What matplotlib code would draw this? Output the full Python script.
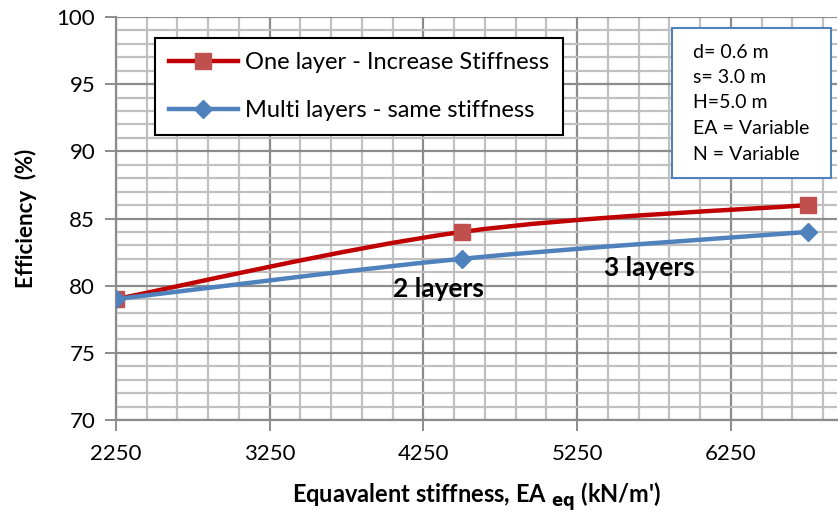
import matplotlib
matplotlib.use("Agg")
import matplotlib.pyplot as plt
from matplotlib.path import Path
from matplotlib.patches import PathPatch, Rectangle
from matplotlib.lines import Line2D
from matplotlib.ticker import MultipleLocator
import numpy as np

plt.rcParams['font.family'] = ['Lato', 'DejaVu Sans']

# Data
stiffness = [2250, 4500, 6750]
one_layer = [79, 84, 86]
multi_layer = [79, 82, 84]
series_labels = ["One layer - Increase Stiffness", "Multi layers - same stiffness"]
x_ticks = [2250, 3250, 4250, 5250, 6250]
y_ticks = [70, 75, 80, 85, 90, 95, 100]
info_lines = ["d= 0.6 m", "s= 3.0 m", "H=5.0 m", "EA = Variable", "N = Variable"]
layer_notes = [("2 layers", 4351, 79.75), ("3 layers", 5721, 81.32)]

RED_LINE = "#C00000"
RED_MARK = "#C0504D"
BLUE = "#4F81BD"


def smooth_path(xs, ys):
    """Bezier path through points, Excel-style smoothed line."""
    pts = np.column_stack([xs, ys]).astype(float)
    ext = np.vstack([pts[0], pts, pts[-1]])
    verts = [tuple(pts[0])]
    codes = [Path.MOVETO]
    for i in range(len(pts) - 1):
        p0, p1, p2, p3 = ext[i], ext[i + 1], ext[i + 2], ext[i + 3]
        c1 = p1 + (p2 - p0) / 6.0
        c2 = p2 - (p3 - p1) / 6.0
        verts += [tuple(c1), tuple(c2), tuple(p2)]
        codes += [Path.CURVE4] * 3
    return Path(verts, codes)


W, H = 838, 514
fig = plt.figure(figsize=(W / 100, H / 100), dpi=100)
ax_left, ax_right, ax_top, ax_bottom = 116, 837, 17, 420
ax = fig.add_axes([ax_left / W, 1 - ax_bottom / H, (ax_right - ax_left) / W, (ax_bottom - ax_top) / H])

px_per_1000 = 153.7
ax.set_xlim(2250, 2250 + (ax_right - ax_left) / px_per_1000 * 1000)
ax.set_ylim(70, 100)

ax.set_xticks(x_ticks)
ax.xaxis.set_minor_locator(MultipleLocator(200, offset=50))
ax.set_yticks(y_ticks)
ax.yaxis.set_minor_locator(MultipleLocator(1))

ax.grid(which="minor", color="#C0C0C0", linewidth=1.6)
ax.grid(which="major", color="#8C8C8C", linewidth=1.6)
ax.set_axisbelow(True)

for side in ["top", "right"]:
    ax.spines[side].set_visible(False)
for side in ["left", "bottom"]:
    ax.spines[side].set_color("#8C8C8C")
    ax.spines[side].set_linewidth(1.6)

ax.tick_params(which="major", length=8, width=1.4, color="#8C8C8C", labelsize=16, pad=7)
ax.tick_params(axis="x", which="major", pad=9)
ax.tick_params(which="minor", length=0)

# Smoothed lines
ax.add_patch(PathPatch(smooth_path(stiffness, one_layer), facecolor="none",
                       edgecolor=RED_LINE, linewidth=3.2, capstyle="round", zorder=3))
ax.plot(stiffness, one_layer, linestyle="none", marker="s", markersize=12,
        color=RED_MARK, zorder=4)
ax.add_patch(PathPatch(smooth_path(stiffness, multi_layer), facecolor="none",
                       edgecolor=BLUE, linewidth=3.2, capstyle="round", zorder=5))
ax.plot(stiffness, multi_layer, linestyle="none", marker="D", markersize=9,
        color=BLUE, zorder=6)

for txt, x, y in layer_notes:
    ax.text(x, y, txt, fontsize=19, fontweight="bold", ha="center", va="center", zorder=7)

ax.set_xlabel("Equavalent stiffness, EA $_{\\mathbf{eq}}$ (kN/m')", fontsize=17,
              fontweight="bold", labelpad=12)
ax.set_ylabel("Efficiency  (%)", fontsize=16, fontweight="bold", labelpad=14)

handles = [
    Line2D([], [], color=RED_LINE, linewidth=3.2, marker="s", markersize=12,
           markerfacecolor=RED_MARK, markeredgecolor=RED_MARK),
    Line2D([], [], color=BLUE, linewidth=3.2, marker="D", markersize=9,
           markerfacecolor=BLUE, markeredgecolor=BLUE),
]
leg = ax.legend(handles, series_labels, loc="upper left",
                bbox_to_anchor=((155 - ax_left) / (ax_right - ax_left), (ax_bottom - 38) / (ax_bottom - ax_top)),
                borderaxespad=0, fontsize=17, frameon=True, fancybox=False,
                edgecolor="black", framealpha=1, handlelength=2.9, handletextpad=0.3,
                labelspacing=1.15, borderpad=0.6)
leg.get_frame().set_linewidth(1.5)
leg.set_zorder(8)

# Parameter box
bx0, by0, bx1, by1 = 672, 28, 831, 178
fig.patches.append(Rectangle((bx0 / W, 1 - by1 / H), (bx1 - bx0) / W, (by1 - by0) / H,
                             transform=fig.transFigure, facecolor="white",
                             edgecolor=BLUE, linewidth=1.5, zorder=9))
for i, line in enumerate(info_lines):
    fig.text(693 / W, 1 - (52 + i * 25.5) / H, line, fontsize=14, ha="left",
             va="center", zorder=10)

fig.savefig("out.png", dpi=100)
